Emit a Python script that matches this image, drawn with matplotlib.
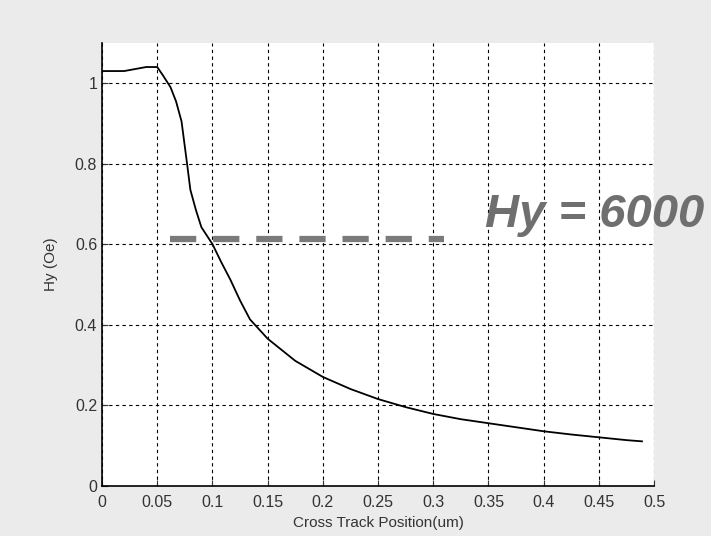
import matplotlib.pyplot as plt

# Field profile
position_um = [0.0, 0.01, 0.02, 0.03, 0.04, 0.05, 0.055, 0.062, 0.067, 0.072,
               0.077, 0.080, 0.085, 0.090, 0.100, 0.108, 0.116, 0.125, 0.134,
               0.150, 0.175, 0.200, 0.225, 0.250, 0.275, 0.300, 0.325, 0.350,
               0.375, 0.400, 0.425, 0.450, 0.475, 0.489]
hy_norm = [1.03, 1.03, 1.03, 1.035, 1.04, 1.04, 1.02, 0.99, 0.955, 0.905,
           0.80, 0.735, 0.685, 0.642, 0.60, 0.555, 0.513, 0.46, 0.413,
           0.365, 0.31, 0.27, 0.24, 0.215, 0.195, 0.178, 0.165, 0.155,
           0.145, 0.135, 0.127, 0.12, 0.113, 0.11]

target_x = [0.062, 0.31]
target_y = 0.612
target_label = 'Hy = 6000'

x_ticks = [0, 0.05, 0.1, 0.15, 0.2, 0.25, 0.3, 0.35, 0.4, 0.45, 0.5]
x_ticklabels = ['0', '0.05', '0.1', '0.15', '0.2', '0.25', '0.3', '0.35', '0.4', '0.45', '0.5']
y_ticks = [0, 0.2, 0.4, 0.6, 0.8, 1.0]
y_ticklabels = ['0', '0.2', '0.4', '0.6', '0.8', '1']

plt.rcParams.update({
    'font.family': ['Liberation Sans', 'DejaVu Sans'],
    'font.size': 11,
})

fig = plt.figure(figsize=(7.11, 5.36), dpi=100, facecolor='#ebebeb')
ax = fig.add_axes([0.1435, 0.094, 0.7765, 0.826])
ax.set_facecolor('white')

ax.plot(position_um, hy_norm, color='black', linewidth=1.3)
ax.plot(target_x, [target_y, target_y], color='#7a7a7a', linewidth=4.5,
        linestyle=(0, (4.2, 2.7)), solid_capstyle='butt')
ax.text(0.347, 0.672, target_label, fontsize=34, fontweight='bold', style='italic',
        color='#6f6f6f', va='center', ha='left', clip_on=False,
        family=['Liberation Sans', 'DejaVu Sans'])

ax.set_xlim(0, 0.5)
ax.set_ylim(0, 1.1)
ax.set_xticks(x_ticks)
ax.set_xticklabels(x_ticklabels)
ax.set_yticks(y_ticks)
ax.set_yticklabels(y_ticklabels)
ax.tick_params(direction='in', length=4, labelsize=11.5, colors='#333333')
ax.tick_params(axis='x', pad=7)

ax.grid(True, linestyle=(0, (3, 3)), color='black', linewidth=0.8)
ax.spines['top'].set_visible(False)
ax.spines['right'].set_visible(False)
ax.spines['left'].set_linewidth(1.2)
ax.spines['bottom'].set_linewidth(1.2)

ax.set_xlabel('Cross Track Position(um)', fontsize=11, color='#333333', labelpad=4)
ax.set_ylabel('Hy (Oe)', fontsize=11, color='#333333', labelpad=12)

fig.savefig('out.png', dpi=100, facecolor=fig.get_facecolor())
